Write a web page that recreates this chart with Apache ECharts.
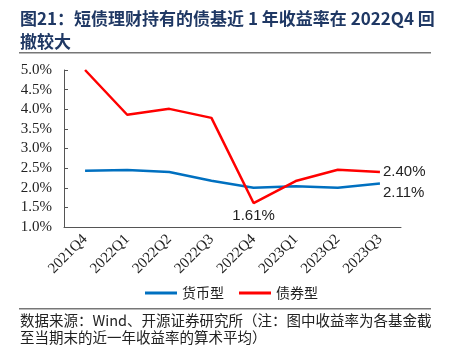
<!DOCTYPE html>
<html>
<head>
<meta charset="utf-8">
<script src="https://cdn.jsdelivr.net/npm/echarts@6/dist/echarts.min.js"></script>
<style>
html,body{margin:0;padding:0;background:#fff;}
#chart{width:449px;height:349px;}
</style>
</head>
<body>
<div id="chart"></div>
<script>
// Quarter categories and average trailing one-year returns (%)
const quarters = ['2021Q4','2022Q1','2022Q2','2022Q3','2022Q4','2023Q1','2023Q2','2023Q3'];
const moneyFund = [2.43, 2.45, 2.40, 2.18, 2.00, 2.04, 2.00, 2.11];
const bondFund  = [5.00, 3.86, 4.01, 3.78, 1.61, 2.17, 2.46, 2.40];
const yTicks = { min: 1.0, max: 5.0, step: 0.5 };

const titleText = '图21：短债理财持有的债基近 1 年收益率在 2022Q4 回\n撤较大';
const sourceText = '数据来源：Wind、开源证券研究所（注：图中收益率为各基金截\n至当期末的近一年收益率的算术平均）';

const chart = echarts.init(document.getElementById('chart'), null, { renderer: 'canvas' });

const serif = '"Liberation Serif", "Times New Roman", serif';
const cjk = '"Noto Sans CJK SC", sans-serif';
const sans = '"Liberation Sans", Arial, sans-serif';

// value label placed on one point of a series
function pointLabel(data, idx, position, offset) {
  return {
    symbol: 'circle', symbolSize: 0,
    data: [{ coord: [idx, data[idx]], value: data[idx] }],
    label: {
      show: true, position: position, distance: 3, offset: offset || [0, 0],
      fontFamily: sans, fontSize: 15, color: '#222',
      formatter: p => p.value.toFixed(2) + '%'
    }
  };
}

chart.setOption({
  animation: false,
  backgroundColor: '#fff',
  grid: { left: 64, right: 48, top: 70, bottom: 122 },
  legend: {
    left: 140, top: 281,
    itemWidth: 32, itemHeight: 3, itemGap: 15,
    icon: 'rect',
    textStyle: { fontFamily: cjk, fontSize: 14, color: '#222' },
    data: ['货币型', '债券型']
  },
  xAxis: {
    type: 'category',
    data: quarters,
    boundaryGap: true,
    axisLine: { lineStyle: { color: '#555', width: 1 } },
    axisTick: { inside: true, length: 4, lineStyle: { color: '#555' } },
    axisLabel: { rotate: 45, fontFamily: serif, fontSize: 15, color: '#222', margin: 10 }
  },
  yAxis: {
    type: 'value',
    min: yTicks.min, max: yTicks.max, interval: yTicks.step,
    splitLine: { show: false },
    axisLine: { show: true, lineStyle: { color: '#555', width: 1 } },
    axisTick: { show: true, inside: true, length: 4, lineStyle: { color: '#555' } },
    axisLabel: {
      fontFamily: serif, fontSize: 15, color: '#222', margin: 12,
      formatter: v => v.toFixed(1) + '%'
    }
  },
  series: [
    {
      name: '货币型', type: 'line', data: moneyFund,
      symbol: 'none', z: 2,
      lineStyle: { color: '#0070c0', width: 2.5 },
      itemStyle: { color: '#0070c0' },
      markPoint: pointLabel(moneyFund, moneyFund.length - 1, 'right', [0, 9])
    },
    {
      name: '债券型', type: 'line', data: bondFund,
      symbol: 'none', z: 3,
      lineStyle: { color: '#ff0000', width: 2.5 },
      itemStyle: { color: '#ff0000' },
      markPoint: {
        symbol: 'circle', symbolSize: 0,
        data: [
          { coord: [4, bondFund[4]], value: bondFund[4], label: { position: 'bottom', distance: 5 } },
          { coord: [bondFund.length - 1, bondFund[bondFund.length - 1]], value: bondFund[bondFund.length - 1], label: { position: 'right', distance: 3, offset: [0, 0] } }
        ],
        label: {
          show: true,
          fontFamily: sans, fontSize: 15, color: '#222',
          formatter: p => p.value.toFixed(2) + '%'
        }
      }
    }
  ],
  graphic: [
    {
      type: 'text', left: 20, top: 7,
      style: {
        text: titleText, fill: '#1f3864',
        font: 'bold 17px ' + cjk, lineHeight: 23
      }
    },
    { type: 'rect', shape: { x: 19, y: 52, width: 412, height: 1.5 }, style: { fill: '#777' } },
    { type: 'rect', shape: { x: 19, y: 308, width: 412, height: 1.5 }, style: { fill: '#777' } },
    {
      type: 'text', left: 20, top: 312,
      style: {
        text: sourceText, fill: '#222',
        font: '14.5px ' + cjk, lineHeight: 17
      }
    }
  ]
});
</script>
</body>
</html>
